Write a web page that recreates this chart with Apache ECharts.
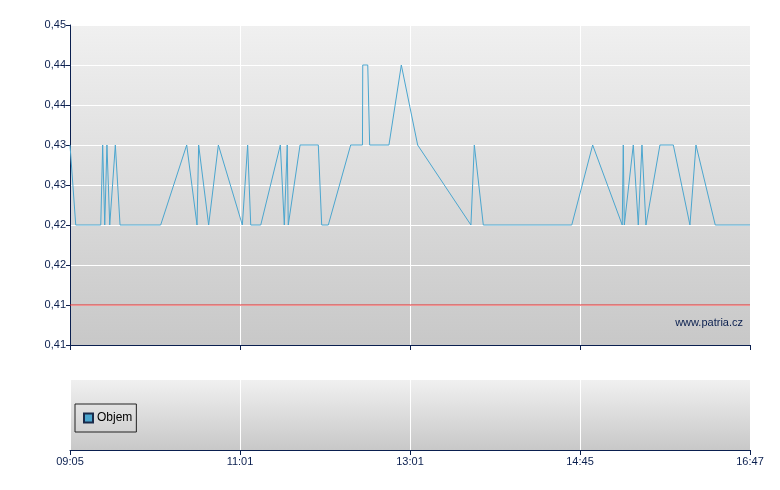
<!DOCTYPE html>
<html><head><meta charset="utf-8">
<script src="https://cdn.jsdelivr.net/npm/echarts@6/dist/echarts.min.js"></script>
</head>
<body style="margin:0;background:#fff">
<div id="c" style="width:780px;height:490px"></div>
<script>
// minutes since session start (09:05), session length 462 min
const timeMin = [0,0.7,3.9,20.9,22.2,23.6,25.1,27.0,30.8,34.0,61.6,79.3,86.3,87.4,94.2,100.8,117.1,120.7,121.6,122.8,129.6,142.9,145.6,147.6,148.3,156.3,168.7,171.0,175.5,190.7,198.7,198.9,202.3,203.6,216.7,225.1,236.2,272.4,274.7,280.8,340.9,355.1,375.2,375.9,376.6,382.7,386.1,388.6,391.3,400.8,409.9,421.2,425.3,438.4,462];
const price = [0.435,0.435,0.425,0.425,0.435,0.425,0.435,0.425,0.435,0.425,0.425,0.435,0.425,0.435,0.425,0.435,0.425,0.435,0.435,0.425,0.425,0.435,0.425,0.435,0.425,0.435,0.435,0.425,0.425,0.435,0.435,0.445,0.445,0.435,0.435,0.445,0.435,0.425,0.435,0.425,0.425,0.435,0.425,0.435,0.425,0.435,0.425,0.435,0.425,0.435,0.435,0.425,0.435,0.425,0.425];
const volume = [];
const xTickLabels = ['09:05','11:01','13:01','14:45','16:47'];
const yTickLabels = ['0,41','0,41','0,42','0,42','0,43','0,43','0,44','0,44','0,45'];
const refPrice = 0.415;
const yMin = 0.41, yMax = 0.45, yStep = 0.005;
const xMax = 462, xStep = 115.5;

const navy = '#0a1f4f';
const bgGrad = new echarts.graphic.LinearGradient(0,0,0,1,[{offset:0,color:'#f0f0f0'},{offset:1,color:'#c8c8c8'}]);
const bgGrad2 = new echarts.graphic.LinearGradient(0,0,0,1,[{offset:0,color:'#f0f0f0'},{offset:1,color:'#c8c8c8'}]);
const font = 'Liberation Sans, Arial, sans-serif';

const chart = echarts.init(document.getElementById('c'), null, {renderer:'canvas'});
chart.setOption({
  animation:false,
  textStyle:{fontFamily:font},
  grid:[
    {left:70,top:25,width:680,height:320,show:true,backgroundColor:bgGrad,borderWidth:0},
    {left:70,top:380,width:680,height:70,show:true,backgroundColor:bgGrad2,borderWidth:0}
  ],
  xAxis:[
    {type:'value',gridIndex:0,min:0,max:xMax,interval:xStep,
     axisLine:{show:true,onZero:false,lineStyle:{color:navy,width:1}},
     axisTick:{show:true,length:5,lineStyle:{color:navy}},
     axisLabel:{show:false},
     splitLine:{show:true,lineStyle:{color:'#ffffff',width:1}}},
    {type:'value',gridIndex:1,min:0,max:xMax,interval:xStep,
     axisLine:{show:true,onZero:false,lineStyle:{color:navy,width:1}},
     axisTick:{show:true,length:5,lineStyle:{color:navy}},
     axisLabel:{show:true,color:navy,fontSize:11,fontFamily:font,margin:6,
       formatter:v=>xTickLabels[Math.round(v/xStep)]},
     splitLine:{show:true,lineStyle:{color:'#ffffff',width:1}}}
  ],
  yAxis:[
    {type:'value',gridIndex:0,min:yMin,max:yMax,interval:yStep,
     axisLine:{show:true,lineStyle:{color:navy,width:1}},
     axisTick:{show:true,length:4,lineStyle:{color:navy}},
     axisLabel:{color:navy,fontSize:11,fontFamily:font,margin:4,
       formatter:v=>yTickLabels[Math.round((v-yMin)/yStep)]},
     splitLine:{show:true,lineStyle:{color:'#ffffff',width:1}}},
    {type:'value',gridIndex:1,min:0,max:1,show:false,splitLine:{show:false}}
  ],
  legend:{
    data:['Objem'],left:75,top:404,orient:'horizontal',
    borderColor:'#222',borderWidth:1,backgroundColor:'rgba(0,0,0,0)',
    padding:[8,4,8,8],itemWidth:9,itemHeight:9,itemGap:4,icon:'rect',
    textStyle:{color:'#000',fontSize:12,fontFamily:font,padding:[0,0,0,-1]}
  },
  series:[
    {name:'Ref',type:'line',xAxisIndex:0,yAxisIndex:0,
     data:[[0,refPrice],[xMax,refPrice]],showSymbol:false,symbol:'none',silent:true,
     lineStyle:{color:'#e02828',width:1},z:2},
    {name:'Cena',type:'line',xAxisIndex:0,yAxisIndex:0,
     data:timeMin.map((t,i)=>[t,price[i]]),
     showSymbol:false,symbol:'none',
     lineStyle:{color:'#4ba6cf',width:1},
     z:3},
    {name:'Objem',type:'bar',xAxisIndex:1,yAxisIndex:1,data:volume,
     itemStyle:{color:'#4ba6cf',borderColor:'#1a2a4a',borderWidth:1}}
  ],
  graphic:[
    {type:'text',right:37,top:317,style:{text:'www.patria.cz',fill:navy,font:'11px '+font}}
  ]
});
</script>
</body></html>
